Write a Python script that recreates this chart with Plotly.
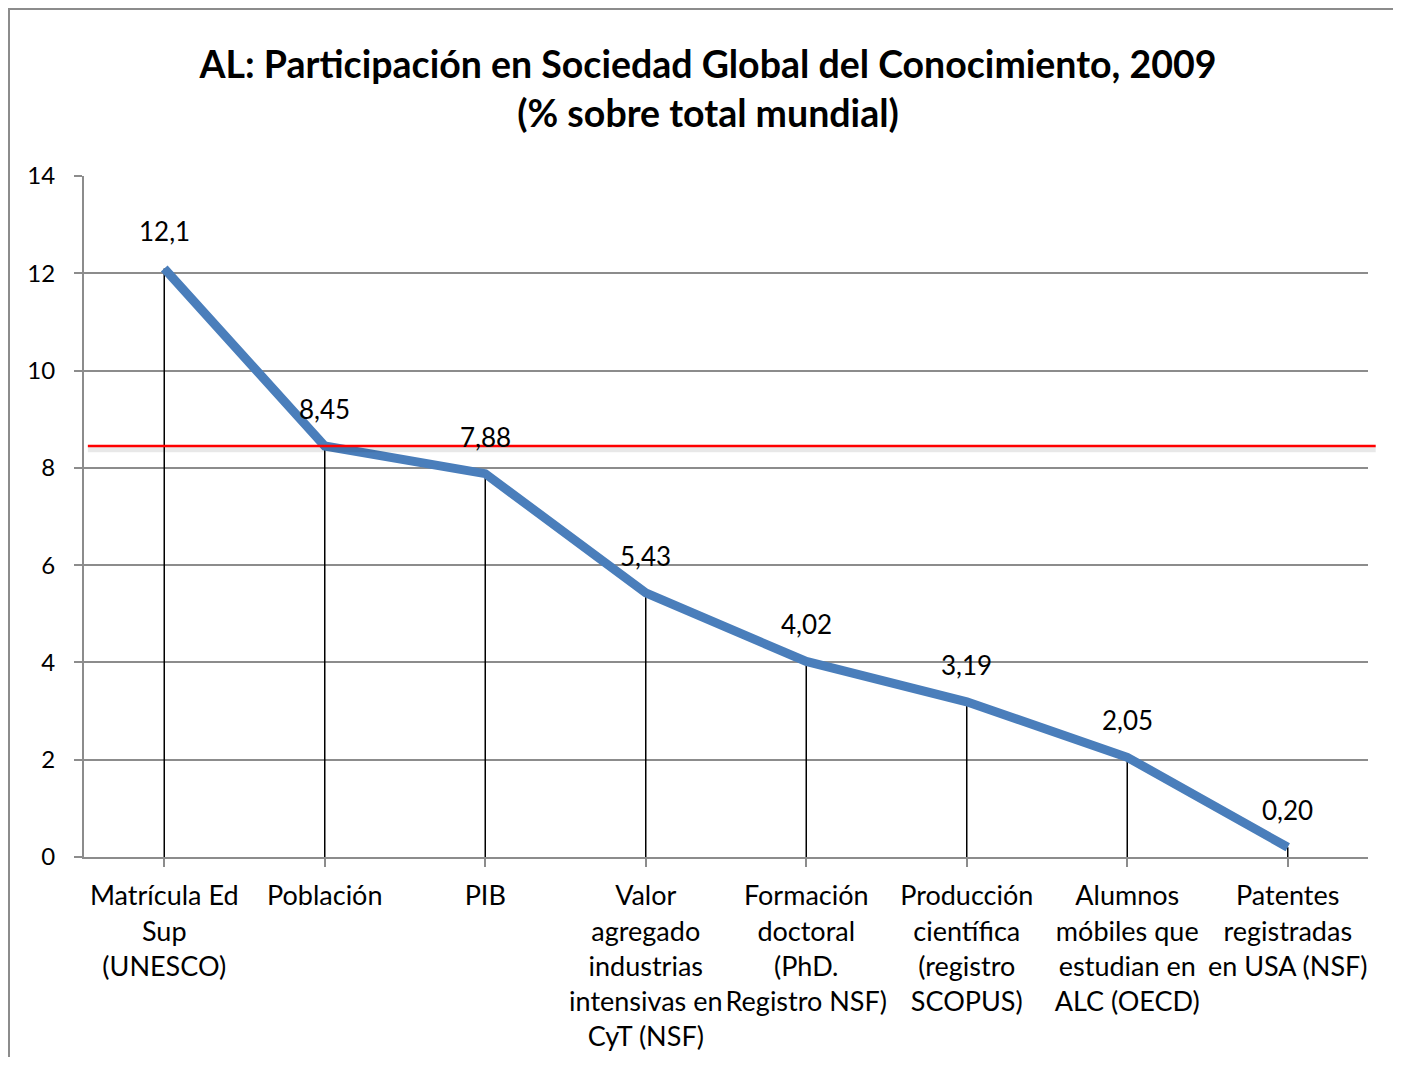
import plotly.graph_objects as go

categories = [
    "Matrícula Ed<br>Sup<br>(UNESCO)",
    "Población",
    "PIB",
    "Valor<br>agregado<br>industrias<br>intensivas en<br>CyT (NSF)",
    "Formación<br>doctoral<br>(PhD.<br>Registro NSF)",
    "Producción<br>científica<br>(registro<br>SCOPUS)",
    "Alumnos<br>móbiles que<br>estudian en<br>ALC (OECD)",
    "Patentes<br>registradas<br>en USA (NSF)",
]
values = [12.1, 8.45, 7.88, 5.43, 4.02, 3.19, 2.05, 0.20]
value_labels = ["12,1", "8,45", "7,88", "5,43", "4,02", "3,19", "2,05", "0,20"]
reference_level = 8.45
y_ticks = [0, 2, 4, 6, 8, 10, 12, 14]

FONT = "Lato"
idx = list(range(len(categories)))

W, H = 1385, 1049  # page body has an 8px margin
ML, MR, MT, MB = 76, 25, 168, 200
PW, PH = W - ML - MR, H - MT - MB

fig = go.Figure()

# drop lines
dx, dy = [], []
for i, v in zip(idx, values):
    dx += [i, i, None]
    dy += [0, v, None]
fig.add_trace(go.Scatter(x=dx, y=dy, mode="lines",
                         line=dict(color="black", width=1.5),
                         hoverinfo="skip", showlegend=False))

# main line
fig.add_trace(go.Scatter(x=idx, y=values, mode="lines",
                         line=dict(color="#4a7ebb", width=9),
                         showlegend=False))

# data labels
for i, v, t in zip(idx, values, value_labels):
    fig.add_annotation(x=i, y=v, text=t, showarrow=False, yshift=37,
                       xanchor="center", yanchor="middle",
                       font=dict(family=FONT, size=26, color="black"))

# red reference line with soft shadow
fig.add_shape(type="line", xref="paper", yref="y", x0=0.003, x1=1.006,
              y0=reference_level - 0.07, y1=reference_level - 0.07,
              line=dict(color="rgba(0,0,0,0.09)", width=6), layer="above")
fig.add_shape(type="line", xref="paper", yref="y", x0=0.003, x1=1.006,
              y0=reference_level, y1=reference_level,
              line=dict(color="#ff0000", width=2.5), layer="above")

# outer frame (left and top edges visible)
fig.add_shape(type="rect", xref="paper", yref="paper",
              x0=-(ML - 1) / PW, x1=1.05, y0=-0.5, y1=1 + (MT - 1) / PH,
              line=dict(color="#8c8c8c", width=2), layer="below")

fig.update_layout(
    width=W, height=H,
    margin=dict(l=ML, r=MR, t=MT, b=MB, autoexpand=False),
    paper_bgcolor="white", plot_bgcolor="white",
    font=dict(family=FONT, color="black"),
    title=dict(text="<b>AL: Participación en Sociedad Global del Conocimiento, 2009<br>(% sobre total mundial)</b>",
               x=700/W, xanchor="center", xref="container",
               y=1 - 70/H, yanchor="middle", yref="container",
               font=dict(family=FONT, size=37.5, color="black")),
)

fig.update_xaxes(
    tickmode="array", tickvals=idx, ticktext=categories,
    range=[-0.5, len(categories) - 0.5], automargin=False,
    showgrid=False, showline=True, linecolor="#8c8c8c", linewidth=2,
    ticks="outside", tickson="boundaries", ticklen=8, tickcolor="#8c8c8c", tickwidth=2,
    tickfont=dict(family=FONT, size=27, color="black"),
    ticklabelstandoff=6, zeroline=False,
)
fig.update_yaxes(
    range=[0, 14], tickvals=y_ticks, automargin=False,
    showgrid=True, gridcolor="#8c8c8c", gridwidth=1.5,
    showline=True, linecolor="#8c8c8c", linewidth=2,
    ticks="outside", ticklen=8, tickcolor="#8c8c8c", tickwidth=2,
    tickfont=dict(family=FONT, size=24, color="black"),
    ticklabelstandoff=14, zeroline=False,
)

fig.write_html("out.html")
